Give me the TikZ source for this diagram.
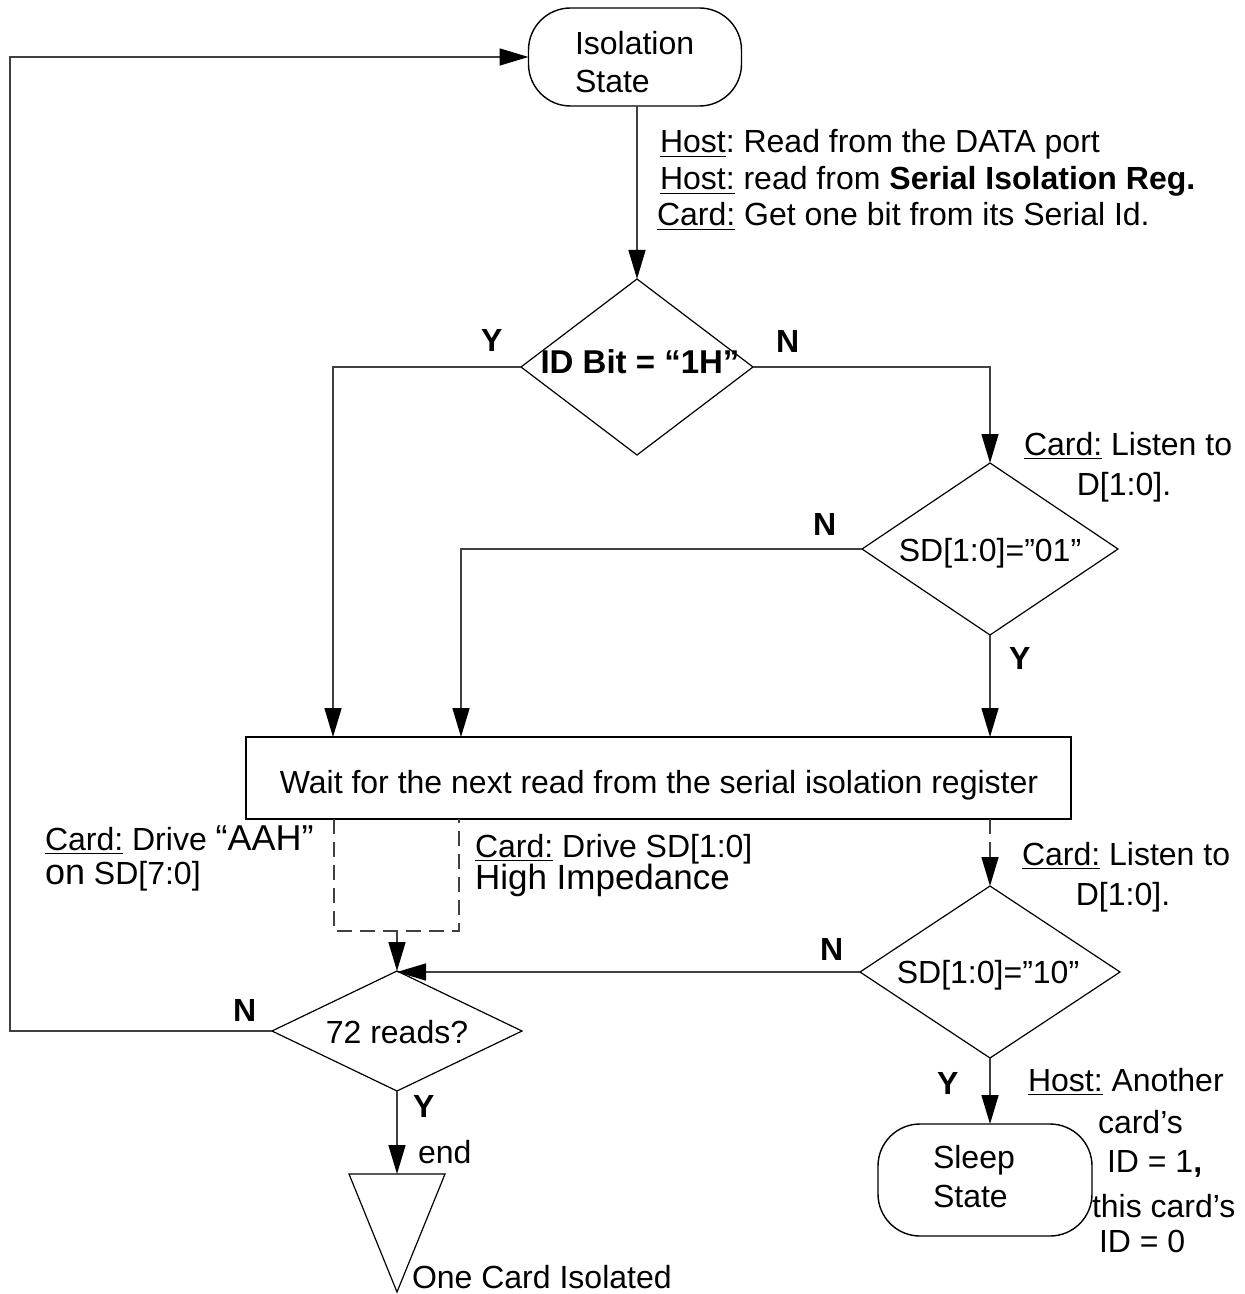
\documentclass[tikz,border=0pt]{standalone}
\usepackage{fontspec}
\setmainfont{Liberation Sans}
\usetikzlibrary{shapes.geometric,arrows.meta}
\frenchspacing
\begin{document}
\begin{tikzpicture}[x=0.5pt,y=-0.5pt,
  every node/.style={font=\fontsize{16}{19}\selectfont, inner sep=0pt, outer sep=0pt},
  conn/.style={draw=black!75, line width=0.75pt},
  arr/.style={conn, -{Triangle[length=14.5pt,width=8.5pt,color=black]}},
  dashln/.style={dash pattern=on 7.5pt off 4pt},
  dia/.style={draw, diamond, line width=0.6pt, inner sep=0pt, outer sep=0pt},
  statebox/.style={draw, rectangle, rounded corners=21pt, line width=0.7pt},
  txt/.style={anchor=base west},
  ctxt/.style={anchor=base},
  yn/.style={anchor=base west, font=\fontsize{16}{19}\selectfont\bfseries},
  big/.style={font=\fontsize{17.5}{19}\selectfont}
]
\useasboundingbox (0,0) rectangle (1245,1294);

% shapes
\node[statebox, minimum width=106.5pt, minimum height=49pt] (iso) at (635,57) {};
\node[dia, minimum width=116pt, minimum height=88pt] (d1) at (637,367) {};
\node[dia, minimum width=128pt, minimum height=86pt] (d2) at (990,549) {};
\node[draw, line width=1pt, minimum width=412.5pt, minimum height=41pt] (box) at (658.5,778) {};
\node[dia, minimum width=125pt, minimum height=60pt] (d3) at (397,1031) {};
\node[dia, minimum width=130pt, minimum height=86pt] (d4) at (990,972) {};
\node[statebox, minimum width=107pt, minimum height=56pt] (sleep) at (985,1180) {};
\coordinate (tri) at (397,1174);
\draw[line width=0.6pt] (349,1174) -- (445,1174) -- (397,1292) -- cycle;

% texts in shapes
\node[txt] (isot1) at (575,55) {Isolation};
\node[txt] (isot2) at (575,93) {State};
\node[ctxt, font=\fontsize{16.5}{19}\selectfont\bfseries] (d1t) at (640,373) {ID Bit = “1H”};
\node[ctxt] (d2t) at (990,561) {SD[1:0]=”01”};
\node[ctxt] (boxt) at (659,793) {Wait for the next read from the serial isolation register};
\node[ctxt] (d3t) at (397,1043) {72 reads?};
\node[ctxt] (d4t) at (988,983) {SD[1:0]=”10”};
\node[txt] (sl1) at (933,1168) {Sleep};
\node[txt] (sl2) at (933,1207) {State};

% annotations
\node[txt] (h1) at (660,153) {\underline{Host}: Read from the DATA port};
\node[txt] (h2) at (660,190) {\underline{Host:} read from \textbf{Serial Isolation Reg.}};
\node[txt] (h3) at (657,226) {\underline{Card:} Get one bit from its Serial Id.};
\node[txt] (l1a) at (1024,455) {\underline{Card:} Listen to};
\node[ctxt] (l1b) at (1124,495) {D[1:0].};
\node[txt] (l2a) at (1022,865) {\underline{Card:} Listen to};
\node[ctxt] (l2b) at (1123,905) {D[1:0].};
\node[txt] (aah1) at (45,850) {\underline{Card:} Drive {\fontsize{18}{19}\selectfont “AAH”}};
\node[txt] (aah2) at (45,884) {{\fontsize{18}{19}\selectfont on} SD[7:0]};
\node[txt] (hi1) at (475,857) {\underline{Card:} Drive SD[1:0]};
\node[txt, big] (hi2) at (475,889) {High Impedance};
\node[txt] (endt) at (418,1163) {end};
\node[txt] (oci) at (412,1288) {One Card Isolated};
\node[txt] (ha1) at (1028,1091) {\underline{Host:} Another};
\node[txt] (ha2) at (1098,1133) {card’s};
\node[txt] (ha3) at (1107,1172) {ID = 1\textbf{,}};
\node[txt] (ha4) at (1092,1217) {this card’s};
\node[txt] (ha5) at (1099,1252) {ID = 0};

% Y / N labels
\node[yn] (y1) at (481,351) {Y};
\node[yn] (n1) at (776,352) {N};
\node[yn] (n2) at (813,535) {N};
\node[yn] (y2) at (1009,669) {Y};
\node[yn] (n3) at (820,960) {N};
\node[yn] (n4) at (233,1021) {N};
\node[yn] (y3) at (413,1117) {Y};
\node[yn] (y4) at (937,1094) {Y};

% connectors
\coordinate (loopc) at (10,1031);
\coordinate (in1) at (333,737);
\coordinate (in2) at (461,737);
\coordinate (dsa) at (334,819);
\coordinate (dsb) at (459,819);
\coordinate (dsm) at (397,931);
\draw[arr] (iso.south -| d1.north) -- (d1.north);
\draw[arr] (d1.west) -| (in1);
\draw[arr] (d1.east) -| (d2.north);
\draw[arr] (d2.west) -| (in2);
\draw[arr] (d2.south) -- (d2.south |- box.north);
\draw[conn, dashln] (dsa) -- (334,931) -- (459,931) -- (dsb);
\draw[arr] (dsm) -- (d3.north);
\draw[arr, dashln] (d4.north |- box.south) -- (d4.north);
\draw[arr] (d4.west) -- (d4.west -| d3.north);
\draw[arr] (d3.west) -- (loopc) |- (iso.west);
\draw[arr] (d3.south) -- (tri);
\draw[arr] (d4.south) -- (d4.south |- sleep.north);
\end{tikzpicture}
\end{document}
